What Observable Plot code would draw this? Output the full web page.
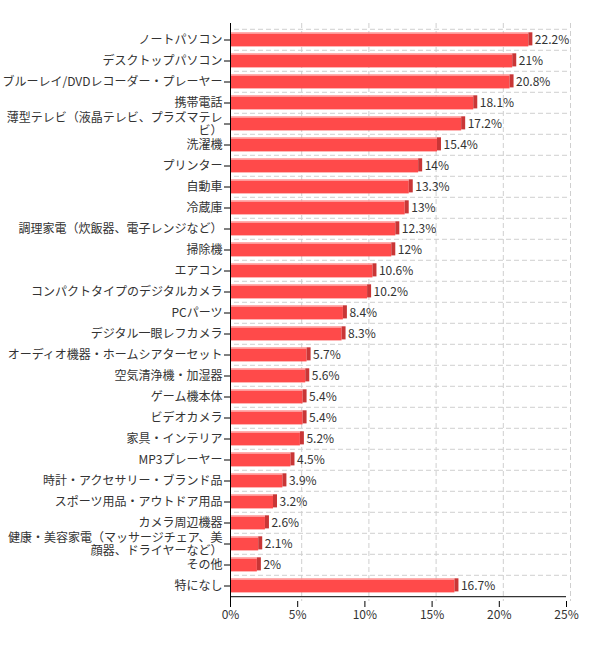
<!DOCTYPE html>
<html>
<head>
<meta charset="utf-8">
<script src="https://cdn.jsdelivr.net/npm/d3@7"></script>
<script src="https://cdn.jsdelivr.net/npm/@observablehq/plot@0.6"></script>
<style>
  body { margin: 0; background: #fff; }
</style>
</head>
<body>
<div id="chart"></div>
<script>
const categories = [
  "ノートパソコン", "デスクトップパソコン", "ブルーレイ/DVDレコーダー・プレーヤー", "携帯電話",
  "薄型テレビ（液晶テレビ、プラズマテレビ）", "洗濯機", "プリンター", "自動車", "冷蔵庫",
  "調理家電（炊飯器、電子レンジなど）", "掃除機", "エアコン", "コンパクトタイプのデジタルカメラ",
  "PCパーツ", "デジタル一眼レフカメラ", "オーディオ機器・ホームシアターセット", "空気清浄機・加湿器",
  "ゲーム機本体", "ビデオカメラ", "家具・インテリア", "MP3プレーヤー", "時計・アクセサリー・ブランド品",
  "スポーツ用品・アウトドア用品", "カメラ周辺機器", "健康・美容家電（マッサージチェア、美顔器、ドライヤーなど）",
  "その他", "特になし"
]
const values = [22.2, 21, 20.8, 18.1, 17.2, 15.4, 14, 13.3, 13, 12.3, 12, 10.6, 10.2, 8.4, 8.3,
  5.7, 5.6, 5.4, 5.4, 5.2, 4.5, 3.9, 3.2, 2.6, 2.1, 2, 16.7]
const xTicks = [0, 5, 10, 15, 20, 25]

const data = categories.map((c, i) => ({name: c, value: values[i]}))

// long all-japanese labels wrap after 18 chars like the original
const wrap = s => (s.length > 19 && !/[A-Za-z]/.test(s)) ? s.slice(0, 18) + "\n" + s.slice(18) : s

const W = 598, H = 648, mt = 23, mb = 47
const step = (H - mt - mb) / categories.length
const grid = {stroke: "#cfcfcf", strokeDasharray: "5,3"}

let chart = Plot.plot({
  width: W,
  height: H,
  marginTop: mt,
  marginBottom: mb,
  marginLeft: 230,
  marginRight: 32,
  style: {fontSize: "12px", fontFamily: "'Noto Sans CJK JP', sans-serif", color: "#333"},
  x: {domain: [0, 25]},
  y: {domain: categories, padding: 0},
  marks: [
    Plot.ruleY(categories, {y: d => d, dy: -step / 2, dx: 4, ...grid}),
    Plot.ruleX(xTicks.slice(1), {dx: 4, ...grid}),
    // top face
    Plot.barX(data, {x: "value", y: "name", fill: "#ff8e8e", insetTop: 3.3, insetBottom: step - 5.3}),
    // front face
    Plot.barX(data, {x: "value", y: "name", fill: "#ff4a4a", insetTop: 5, insetBottom: 3.6}),
    // right side
    Plot.barX(data, {x1: "value", x2: "value", y: "name", fill: "#c93636", insetRight: -4, insetTop: 3.3, insetBottom: 4.6}),
    Plot.text(data, {x: "value", y: "name", text: d => d.value + "%", textAnchor: "start", dx: 6, fill: "#333"}),
    Plot.ruleX([0], {stroke: "#000"}),
    Plot.ruleY([categories[categories.length - 1]], {y: d => d, dy: step / 2, stroke: "#000"}),
    Plot.axisY({tickSize: 6, tickFormat: null, label: null, stroke: "#000"}),
    Plot.text(categories, {x: 0, y: d => d, text: wrap, textAnchor: "end", dx: -8, lineHeight: 1.1, fill: "#333"}),
    Plot.axisX({ticks: xTicks, tickSize: 6, tickPadding: 3, tickFormat: d => d + "%", label: null, stroke: "#000"})
  ]
})
d3.select('#chart').append(() => chart)
</script>
</body>
</html>
